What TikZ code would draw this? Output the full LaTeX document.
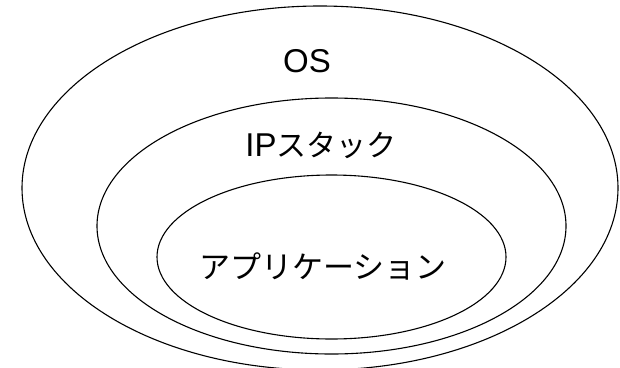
\documentclass[tikz,border=0pt]{standalone}
\usepackage{fontspec}
\setmainfont{Liberation Sans}
\newfontfamily\jpfont{Noto Sans CJK JP}
\usetikzlibrary{shapes.geometric}

\begin{document}
\begin{tikzpicture}[
  x=1pt, y=-1pt,
  ring/.style={draw=black, line width=1.1pt, ellipse, inner sep=0pt},
  lbl/.style ={font=\fontsize{33}{36}\selectfont, inner sep=0pt, anchor=center},
  jp/.style  ={font=\fontsize{31}{34}\selectfont\jpfont, inner sep=0pt}
]
  \useasboundingbox (0,0) rectangle (620,367);
  % nested layers
  \node[ring, minimum width=596pt, minimum height=364pt] (os)  at (320,188) {};
  \node[ring, minimum width=469pt, minimum height=256pt] (ip)  at (331.5,226) {};
  \node[ring, minimum width=349pt, minimum height=164pt] (app) at (331.5,257) {};
  % layer names
  \node[lbl] (oslbl) at (307,61) {OS};
  \node[lbl] (iplbl) at (321,145) {IP{\jpfont\fontsize{30}{32}\selectfont スタック}};
  \node[jp] (applbl) at (323,266) {アプリケーション};
\end{tikzpicture}
\end{document}
